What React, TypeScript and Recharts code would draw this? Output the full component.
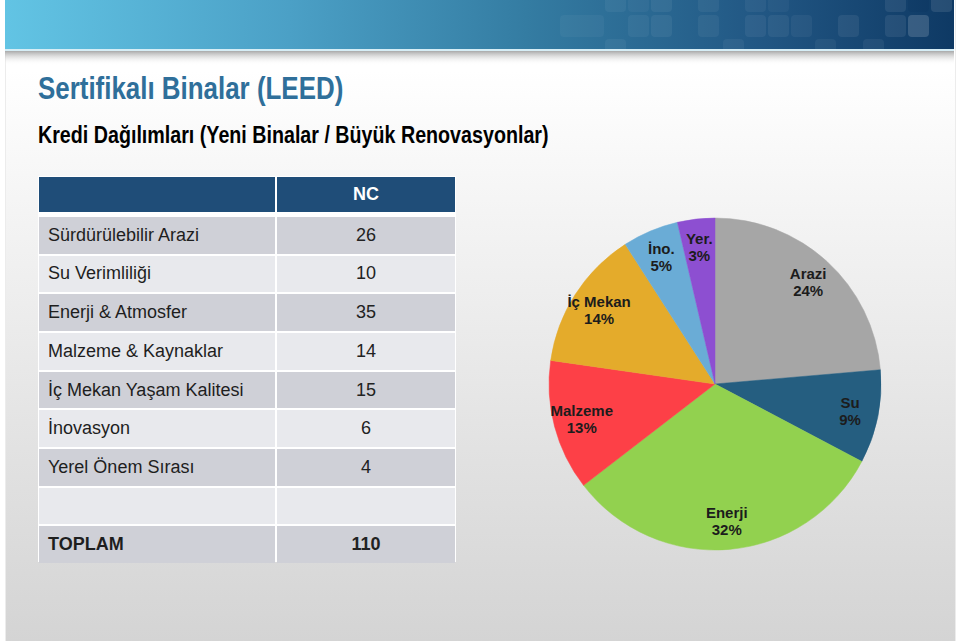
import { PieChart, Pie, Cell } from "recharts";

// LEED NC credit distribution
const categories = [
  "Sürdürülebilir Arazi",
  "Su Verimliliği",
  "Enerji & Atmosfer",
  "Malzeme & Kaynaklar",
  "İç Mekan Yaşam Kalitesi",
  "İnovasyon",
  "Yerel Önem Sırası",
];
const credits = [26, 10, 35, 14, 15, 6, 4];
const columnHeader = "NC";
const totalLabel = "TOPLAM";
const totalCredits = 110;

const sliceNames = ["Arazi", "Su", "Enerji", "Malzeme", "İç Mekan", "İno.", "Yer."];
const slicePercents = [24, 9, 32, 13, 14, 5, 3];

const sliceColors = ["#a6a6a6", "#255e80", "#92d14f", "#fd4047", "#e4ab2b", "#6aacd6", "#8d4fd1"];

const FONT = '"Liberation Sans", Arial, sans-serif';
const RADIAN = Math.PI / 180;

// banner decoration squares: [x, row, opacity]
const bannerBlocks: [number, number, number][] = [
  [605, 0, 0.05], [628, 0, 0.04], [651, 0, 0.06], [698, 0, 0.05], [745, 0, 0.05], [768, 0, 0.04],
  [885, 0, 0.08], [908, 0, -0.15], [931, 0, 0.1],
  [628, 1, 0.05], [651, 1, 0.06], [698, 1, 0.05], [745, 1, 0.06], [768, 1, 0.06], [791, 1, 0.05],
  [838, 1, 0.07], [885, 1, 0.08], [908, 1, 0.16],
  [605, 2, 0.05], [723, 2, 0.05], [815, 2, 0.05], [863, 2, 0.06],
];
const rowY = [-4, 15, 39];
const rowH = [16, 22, 16];

const pieData = sliceNames.map((name, i) => ({
  name,
  value: credits[i],
  pct: slicePercents[i],
}));

function SliceLabel(props: any) {
  const { cx, cy, midAngle, outerRadius, index } = props;
  const r = outerRadius * 0.83;
  const x = cx + r * Math.cos(-midAngle * RADIAN);
  const y = cy + r * Math.sin(-midAngle * RADIAN);
  return (
    <text
      x={x}
      y={y}
      textAnchor="middle"
      fontFamily={FONT}
      fontWeight="bold"
      fontSize={15}
      fill="#1c1c1c"
    >
      <tspan x={x} dy={-3}>{sliceNames[index]}</tspan>
      <tspan x={x} dy={17}>{slicePercents[index]}%</tspan>
    </text>
  );
}

function Banner() {
  return (
    <svg width={959} height={70} style={{ position: "absolute", left: 0, top: 0 }}>
      <defs>
        <linearGradient id="bannerGrad" x1="0" y1="0" x2="1" y2="0">
          <stop offset="0" stopColor="#62c4e4" />
          <stop offset="0.3" stopColor="#4ba0c6" />
          <stop offset="0.55" stopColor="#347ca2" />
          <stop offset="0.8" stopColor="#215683" />
          <stop offset="1" stopColor="#0e3964" />
        </linearGradient>
        <linearGradient id="shadowGrad" x1="0" y1="0" x2="0" y2="1">
          <stop offset="0" stopColor="#a9a9a9" />
          <stop offset="1" stopColor="#ffffff" stopOpacity={0} />
        </linearGradient>
        <clipPath id="bannerClip">
          <rect x={5} y={0} width={949} height={49} />
        </clipPath>
      </defs>
      <rect x={5} y={0} width={949} height={49} fill="url(#bannerGrad)" />
      <g clipPath="url(#bannerClip)">
        <rect x={560} y={15} width={44} height={22} rx={4} fill="#ffffff" opacity={0.04} />
        {bannerBlocks.map(([x, row, op], i) => (
          <rect
            key={i}
            x={x}
            y={rowY[row]}
            width={21}
            height={rowH[row]}
            rx={4}
            fill={op < 0 ? "#0a2f55" : "#ffffff"}
            opacity={Math.abs(op)}
          />
        ))}
      </g>
      <rect x={5} y={49} width={949} height={2} fill="#d6edf5" />
      <rect x={5} y={51} width={949} height={14} fill="url(#shadowGrad)" />
    </svg>
  );
}

function CreditTable() {
  const rows = [
    ...categories.map((c, i) => ({ label: c, value: String(credits[i]), bold: false })),
    { label: "", value: "", bold: false },
    { label: totalLabel, value: String(totalCredits), bold: true },
  ];
  const pitch = 38.67;
  return (
    <div style={{ position: "absolute", left: 38, top: 176, width: 418, height: 386, background: "#ffffff" }}>
      <div
        style={{
          position: "absolute", left: 1, top: 1, width: 236, height: 35, background: "#1f4d78",
        }}
      />
      <div
        style={{
          position: "absolute", left: 239, top: 1, width: 178, height: 35, background: "#1f4d78",
          color: "#fff", fontFamily: FONT, fontWeight: "bold", fontSize: 18,
          display: "flex", alignItems: "center", justifyContent: "center",
        }}
      >
        {columnHeader}
      </div>
      {rows.map((r, i) => {
        const bg = i % 2 === 0 ? "#cfd0d7" : "#e8e9ed";
        const top = 41 + i * pitch;
        return (
          <div key={i}>
            <div
              style={{
                position: "absolute", left: 1, top, width: 236, height: pitch - 2, background: bg,
                fontFamily: FONT, fontSize: 18, fontWeight: r.bold ? "bold" : "normal", color: "#1e1e1e",
                display: "flex", alignItems: "center", paddingLeft: 9, boxSizing: "border-box",
              }}
            >
              {r.label}
            </div>
            <div
              style={{
                position: "absolute", left: 239, top, width: 178, height: pitch - 2, background: bg,
                fontFamily: FONT, fontSize: 18, fontWeight: r.bold ? "bold" : "normal", color: "#222",
                display: "flex", alignItems: "center", justifyContent: "center",
              }}
            >
              {r.value}
            </div>
          </div>
        );
      })}
    </div>
  );
}

export default function App() {
  return (
    <div
      style={{
        position: "absolute", left: 0, top: 0, width: 959, height: 642, overflow: "hidden",
        background: "#ffffff",
      }}
    >
      <div
        style={{
          position: "absolute", left: 5, top: 0, width: 949, height: 641,
          background: "linear-gradient(180deg, #ffffff 0%, #ffffff 11%, #f3f3f3 35%, #e2e2e2 70%, #d4d4d4 100%)",
          borderLeft: "1px solid #ececec", borderRight: "1px solid #ececec",
        }}
      />
      <Banner />
      <svg width={600} height={160} style={{ position: "absolute", left: 0, top: 0 }}>
        <text
          transform="translate(38,99) scale(0.81,1)"
          fontFamily={FONT}
          fontWeight="bold"
          fontSize={32}
          fill="#2f6f9a"
        >
          Sertifikalı Binalar (LEED)
        </text>
        <text
          transform="translate(38,143) scale(0.82,1)"
          fontFamily={FONT}
          fontWeight="bold"
          fontSize={24}
          fill="#000"
        >
          Kredi Dağılımları (Yeni Binalar / Büyük Renovasyonlar)
        </text>
      </svg>
      <CreditTable />
      <div style={{ position: "absolute", left: 540, top: 210 }}>
        <PieChart width={350} height={350} margin={{ top: 0, right: 0, bottom: 0, left: 0 }}>
          <Pie
            data={pieData}
            dataKey="value"
            nameKey="name"
            cx={175}
            cy={174}
            outerRadius={166}
            startAngle={90}
            endAngle={-270}
            label={SliceLabel}
            labelLine={false}
            isAnimationActive={false}
          >
            {pieData.map((d, i) => (
              <Cell key={d.name} fill={sliceColors[i]} stroke={sliceColors[i]} strokeWidth={0.5} />
            ))}
          </Pie>
        </PieChart>
      </div>
    </div>
  );
}
